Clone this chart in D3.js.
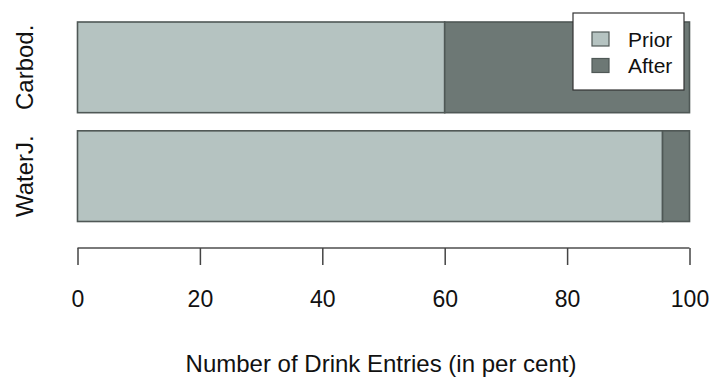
<!DOCTYPE html>
<html>
<head>
<meta charset="utf-8">
<script src="https://cdn.jsdelivr.net/npm/d3@7"></script>
<style>
  html, body { margin: 0; padding: 0; background: #ffffff; }
  svg { display: block; font-family: "Liberation Sans", Arial, Helvetica, sans-serif; }
</style>
</head>
<body>
<svg id="chart" width="712" height="379"></svg>
<script>
// Drink categories (top to bottom) and their share of entries, in per cent
const categories = ["Carbod.", "WaterJ."];
const priorValues = [60, 95.6];
const afterValues = [40, 4.4];
const seriesNames = ["Prior", "After"];
const tickValues = [0, 20, 40, 60, 80, 100];
const axisTitle = "Number of Drink Entries (in per cent)";

const colors = { Prior: "#b5c3c1", After: "#6d7875" };
const barStroke = "#4f5856";

const svg = d3.select("#chart");

const x = d3.scaleLinear().domain([0, 100]).range([77.5, 689.5]);
const y = d3.scaleBand().domain(categories).range([22, 221.5])
  .paddingInner(0.2 / 1.2).paddingOuter(0);

// stacked segments: Prior from 0, After stacked on top of Prior
const rows = categories.map((c, i) => ({ cat: c, Prior: priorValues[i], After: afterValues[i] }));
const stacked = d3.stack().keys(seriesNames)(rows);

svg.append("g").selectAll("g")
  .data(stacked)
  .join("g")
  .attr("fill", d => colors[d.key])
  .selectAll("rect")
  .data(d => d)
  .join("rect")
  .attr("x", d => x(d[0]))
  .attr("y", d => y(d.data.cat))
  .attr("width", d => x(d[1]) - x(d[0]))
  .attr("height", y.bandwidth())
  .attr("stroke", barStroke)
  .attr("stroke-width", 1.6);

// category labels, rotated along the left side
svg.append("g").selectAll("text")
  .data(categories)
  .join("text")
  .attr("transform", d => `translate(33,${y(d) + y.bandwidth() / 2}) rotate(-90)`)
  .attr("text-anchor", "middle")
  .attr("font-size", 24)
  .attr("fill", "#111")
  .text(d => d);

// bottom axis
const axisY = 248;
const axis = d3.axisBottom(x).tickValues(tickValues).tickSize(17).tickPadding(26)
  .tickFormat(d3.format("d"));
const gAxis = svg.append("g").attr("transform", `translate(0,${axisY})`).call(axis);
gAxis.select(".domain").attr("stroke", "#7a7a7a").attr("stroke-width", 2)
  .attr("d", `M${x(0)},0H${x(100)}`);
gAxis.selectAll(".tick line").attr("stroke", "#444").attr("stroke-width", 1.5);
gAxis.selectAll(".tick text").attr("font-size", 23).attr("fill", "#111")
  .attr("font-family", "Liberation Sans, Arial, sans-serif");

// axis title
svg.append("text")
  .attr("x", 381).attr("y", 372)
  .attr("text-anchor", "middle")
  .attr("font-size", 24)
  .attr("fill", "#111")
  .text(axisTitle);

// legend
const legend = svg.append("g");
legend.append("rect")
  .attr("x", 573).attr("y", 13).attr("width", 111).attr("height", 77)
  .attr("fill", "#ffffff").attr("stroke", "#333").attr("stroke-width", 1.2);
const items = legend.selectAll("g.item")
  .data(seriesNames)
  .join("g")
  .attr("class", "item")
  .attr("transform", (d, i) => `translate(0,${i * 26.5})`);
items.append("rect")
  .attr("x", 592).attr("y", 32).attr("width", 17).attr("height", 14)
  .attr("fill", d => colors[d]).attr("stroke", barStroke).attr("stroke-width", 1.2);
items.append("text")
  .attr("x", 628).attr("y", 46.5)
  .attr("font-size", 21).attr("fill", "#111")
  .text(d => d);
</script>
</body>
</html>
